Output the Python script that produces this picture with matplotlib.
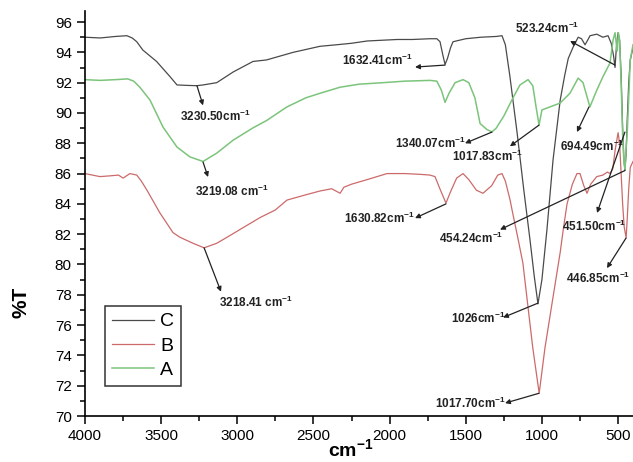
import numpy as np
import matplotlib
matplotlib.use("Agg")
import matplotlib.pyplot as plt
from matplotlib.ticker import MultipleLocator

plt.rcParams['font.family'] = ['Liberation Sans', 'DejaVu Sans']
plt.rcParams['mathtext.fontset'] = 'custom'
plt.rcParams['mathtext.rm'] = 'Liberation Sans'
plt.rcParams['mathtext.bf'] = 'Liberation Sans:bold'

# ---- spectrum C (black)
wn_c = [4000, 3900, 3800, 3725, 3690, 3660, 3620, 3530, 3442, 3396, 3330, 3265, 3225,
        3135, 3028, 2897, 2808, 2634, 2457, 2350, 2250, 2148, 2050, 1950, 1850, 1735,
        1690, 1669, 1650, 1636, 1620, 1600, 1584, 1500, 1400, 1300, 1262, 1240, 1210,
        1163, 1120, 1078, 1050, 1026, 1000, 967, 927, 880, 850, 827, 795, 762, 740,
        717, 700, 684, 640, 600, 566, 545, 530, 520, 510, 500, 490, 480, 470, 462,
        455, 448, 440, 430, 420, 402]
t_c = [95.0, 94.95, 95.05, 95.1, 94.95, 94.7, 94.15, 93.4, 92.4, 91.85, 91.82, 91.8, 91.85,
       92.0, 92.7, 93.4, 93.5, 94.0, 94.4, 94.5, 94.6, 94.75, 94.8, 94.85, 94.85, 94.9,
       94.9, 94.7, 93.8, 93.2, 93.6, 94.3, 94.7, 94.9, 95.0, 95.05, 95.1, 94.5, 92.4,
       88.7, 85.0, 81.6, 79.2, 77.4, 79.0, 82.3, 86.9, 90.85, 92.5, 93.6, 94.35, 95.0, 94.9,
       94.5, 94.8, 95.1, 95.2, 95.0, 95.1, 94.6, 93.8, 93.0, 94.5, 95.3, 94.8, 92.5, 89.0, 87.0,
       86.2, 87.2, 89.5, 92.0, 93.5, 94.3]

# ---- spectrum B (red)
wn_b = [4000, 3902, 3836, 3780, 3750, 3705, 3660, 3630, 3593, 3508, 3422, 3377, 3291,
        3218, 3135, 3050, 2984, 2850, 2750, 2674, 2550, 2457, 2380, 2325, 2300, 2250,
        2148, 2017, 1900, 1800, 1735, 1702, 1670, 1630, 1600, 1560, 1518, 1480, 1430,
        1387, 1330, 1290, 1262, 1240, 1210, 1190, 1163, 1125, 1099, 1060, 1018, 980,
        927, 880, 860, 835, 800, 770, 750, 725, 704, 680, 640, 600, 570, 553, 535, 520,
        500, 490, 480, 470, 460, 447, 440, 430, 420, 402]
t_b = [86.0, 85.8, 85.85, 85.9, 85.7, 86.0, 85.9, 85.5, 84.9, 83.4, 82.1, 81.8, 81.4,
       81.1, 81.4, 81.9, 82.3, 83.1, 83.6, 84.25, 84.6, 84.85, 85.0, 84.7, 85.1, 85.3,
       85.6, 86.0, 86.0, 85.95, 85.9, 85.8, 85.0, 84.05, 84.8, 85.7, 86.0, 85.6, 84.9,
       84.7, 85.2, 85.9, 86.0, 85.5, 84.3, 83.3, 82.0, 80.1, 77.85, 74.5, 71.5, 74.5,
       77.85, 80.8, 82.3, 84.0, 85.3, 86.0, 86.0, 85.2, 84.7, 85.3, 85.8, 85.9, 86.1, 86.0, 86.3, 87.5,
       88.7, 88.0, 86.0, 84.0, 82.5, 81.75, 83.0, 85.0, 86.4, 86.8]

# ---- spectrum A (green)
wn_a = [4000, 3900, 3800, 3720, 3680, 3640, 3573, 3488, 3396, 3311, 3225, 3135, 3028,
        2900, 2808, 2674, 2550, 2457, 2325, 2200, 2043, 1900, 1735, 1690, 1660, 1636,
        1610, 1570, 1518, 1480, 1440, 1406, 1360, 1328, 1300, 1250, 1190, 1144, 1091,
        1060, 1040, 1019, 1000, 947, 881, 816, 762, 730, 685, 640, 599, 553, 533, 520,
        512, 505, 498, 490, 480, 470, 462, 455, 448, 440, 430, 420, 402]
t_a = [92.2, 92.15, 92.2, 92.25, 92.1, 91.7, 90.85, 89.07, 87.75, 87.1, 86.8, 87.35, 88.2,
       89.0, 89.5, 90.4, 91.0, 91.3, 91.7, 91.9, 92.0, 92.1, 92.15, 92.1, 91.5, 90.7,
       91.3, 92.0, 92.2, 92.0, 91.0, 89.3, 88.9, 88.75, 89.0, 89.8, 91.0, 91.85, 92.2,
       91.8, 90.5, 89.2, 90.2, 90.4, 90.65, 91.3, 92.3, 92.0, 90.4, 91.5, 92.4, 93.3, 94.8, 95.3,
       94.6, 94.1, 95.3, 94.8, 92.0, 88.5, 86.8, 86.3, 87.5, 88.7, 91.0, 93.5, 94.5]

# label, arrow tail (on curve), arrow head, text position
peaks = [
    ("3230.50cm", (3265, 91.8), (3225, 90.5), (3145, 89.8)),
    ("3219.08 cm", (3225, 86.76), (3192, 85.77), (3035, 84.8)),
    ("3218.41 cm", (3218, 81.1), (3107, 78.2), (2877, 77.5)),
    ("1632.41cm", (1636, 93.16), (1833, 93.03), (2083, 93.5)),
    ("1340.07cm", (1328, 88.74), (1505, 88.0), (1735, 88.0)),
    ("1017.83cm", (1019, 89.2), (1210, 87.8), (1361, 87.15)),
    ("694.49cm", (691, 90.4), (770, 88.74), (671, 87.8)),
    ("523.24cm", (520, 93.16), (815, 94.75), (967, 95.6)),
    ("451.50cm", (455, 88.74), (638, 83.4), (658, 82.5)),
    ("454.24cm", (455, 86.2), (1275, 82.3), (1466, 81.74)),
    ("1630.82cm", (1630, 84.0), (1833, 83.06), (2070, 83.06)),
    ("1026cm", (1026, 77.45), (1255, 76.5), (1420, 76.46)),
    ("1017.70cm", (1019, 71.5), (1242, 70.85), (1472, 70.85)),
]
edge_label = ("446.85cm", (448, 81.74), (573, 79.76), (840, 79.1))

fig = plt.figure(figsize=(6.33, 4.62), dpi=100)
ax = fig.add_axes([85/633, 46/462, 548/633, 405/462])

ax.plot(wn_c, t_c, color='#4a4a4a', lw=0.9, label='C')
ax.plot(wn_b, t_b, color='#cc6a6a', lw=0.9, label='B')
ax.plot(wn_a, t_a, color='#7cc47c', lw=1.1, label='A')

arrow = dict(arrowstyle='-|>', color='#222222', lw=0.9, mutation_scale=7,
             shrinkA=0, shrinkB=0)
for lab, tail, head, pos in peaks:
    ax.annotate('', xy=head, xytext=tail, arrowprops=arrow)
    ax.text(pos[0], pos[1], lab + r'$^{\mathbf{-1}}$', fontsize=8.5,
            fontweight='bold', ha='center', va='center', color='#222222')
lab, tail, head, pos = edge_label
ax.annotate('', xy=head, xytext=tail, arrowprops=arrow)
ax.text(pos[0], pos[1], lab + r'$^{\mathbf{-1}}$', fontsize=8.5,
        fontweight='bold', ha='left', va='center', color='#222222', clip_on=False)

ax.set_xlim(4000, 402)
ax.set_ylim(70, 96.73)
ax.xaxis.set_major_locator(MultipleLocator(500))
ax.xaxis.set_minor_locator(MultipleLocator(250))
ax.yaxis.set_major_locator(MultipleLocator(2))
ax.yaxis.set_minor_locator(MultipleLocator(1))
ax.tick_params(which='major', direction='out', length=6, width=1.1, labelsize=11)
ax.tick_params(which='minor', direction='out', length=3.5, width=1.1)
for s in ['top', 'right']:
    ax.spines[s].set_visible(False)
for s in ['left', 'bottom']:
    ax.spines[s].set_linewidth(1.2)

ax.set_ylabel('%T', fontsize=15, fontweight='bold')
ax.yaxis.set_label_coords(-0.10, 0.28)
ax.set_xlabel(r'$\mathbf{cm^{-1}}$', fontsize=14)
ax.xaxis.set_label_coords(0.485, -0.055)

leg = ax.legend(loc='lower left', bbox_to_anchor=(0.036, 0.074), borderaxespad=0,
                fontsize=14, handlelength=2.2, handletextpad=0.3, labelspacing=0.35,
                borderpad=0.35, fancybox=False, framealpha=1)
leg.get_frame().set_edgecolor('#333333')
leg.get_frame().set_linewidth(1.1)

fig.savefig('out.png', dpi=100)
